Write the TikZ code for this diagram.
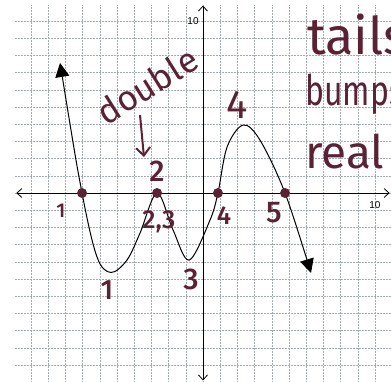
\documentclass[tikz,border=0pt]{standalone}
\usepackage{fontspec}
\setmainfont{Fira Sans}
\newfontfamily\printfont{Liberation Sans}
\newfontfamily\inkfont{Fira Sans}[UprightFont=* Medium]
\usepackage{tikz}
\usetikzlibrary{arrows.meta}
\definecolor{inkRed}{HTML}{5A2232}
\definecolor{gridGray}{HTML}{A4ABAF}

\begin{document}
\begin{tikzpicture}[x=17.2pt, y=17.2pt, >=Stealth,
  hand/.style={inkRed, inner sep=0pt},
  tick/.style={inner sep=0pt, font=\printfont\fontsize{10}{10}\selectfont},
  rootdot/.style={circle, fill=inkRed, inner sep=0pt, minimum size=10pt},
  axis/.style={line width=0.8pt, {Straight Barb[length=5pt,width=9pt]}-{Straight Barb[length=5pt,width=9pt]}}]
\useasboundingbox (-11.8,-10.93) rectangle (10.93,11.22);
% ---------- grid paper ----------
\foreach \k in {-10,...,10} {
  \draw[gridGray, densely dotted, line width=0.5pt] (\k,-10.93) -- (\k,10.93);
  \draw[gridGray, densely dotted, line width=0.5pt] (-10.93,\k) -- (10.93,\k);
}
% ---------- axes ----------
\draw[axis] (-10.85,0) -- (10.85,0);
\draw[axis] (0,-10.9) -- (0,10.9);
\node[tick] (ytop) at (-0.58,10) {10};
\node[tick] (xright) at (10,-0.7) {10};
% ---------- curve : roots -7, -2.7 (double), 0.9, 4.8 ----------
\coordinate (tailL) at (-8.31,7.56);
\coordinate (tailR) at (6.28,-4.65);
\coordinate (r1) at (-7.03,0);
\coordinate (r2) at (-2.67,0);
\coordinate (r4) at (0.87,0);
\coordinate (r5) at (4.77,0);
\draw[line width=1pt, {Triangle[length=14pt,width=14pt]}-{Triangle[length=14pt,width=14pt]}]
  plot[smooth, tension=0.55] coordinates {(tailL) (r1) (-6.16,-3.72) (-5.35,-4.62)
  (-4.42,-3.9) (-3.66,-2.33) (r2) (-1.74,-2.15) (-0.8,-3.9) (0.41,-1.57) (r4)
  (1.4,2.67) (2.33,3.95) (3.31,3.08) (r5) (tailR)};
\node[rootdot] (d1) at (r1) {};
\node[rootdot] (d2) at (r2) {};
\node[rootdot] (d4) at (r4) {};
\node[rootdot] (d5) at (r5) {};
% ---------- handwritten notes ----------
\node[hand, font=\inkfont\fontsize{20}{20}\selectfont] (n1) at (-8.26,-1.05) {1};
\node[hand, font=\inkfont\fontsize{28}{28}\selectfont] (m1) at (-5.58,-5.64) {1};
\node[hand, font=\inkfont\fontsize{26}{26}\selectfont] (n23) at (-2.56,-1.69) {2,3};
\node[hand, font=\inkfont\fontsize{30}{30}\selectfont] (n2) at (-2.67,1.28) {2};
\node[hand, font=\inkfont\fontsize{30}{30}\selectfont] (m3) at (-0.7,-5.0) {3};
\node[hand, font=\inkfont\fontsize{26}{26}\selectfont] (n4) at (1.22,-1.34) {4};
\node[hand, font=\inkfont\fontsize{30}{30}\selectfont] (n5) at (4.13,-1.16) {5};
\node[hand, font=\fontsize{40}{40}\selectfont] (m4) at (1.98,5.12) {4};
\node[hand, font=\fontsize{35}{35}\selectfont, rotate=32] (dbl) at (-3.25,6.25) {double};
\coordinate (arrowTop) at (-3.66,4.53);
\coordinate (arrowBot) at (-3.43,2.09);
\draw[inkRed, line width=2pt, -{Straight Barb[length=8pt,width=14pt]}] (arrowTop) -- (arrowBot);
\node[hand, font=\fontsize{52}{52}\selectfont, anchor=base west] (tails) at (6.05,8.08) {tails};
\node[hand, font=\fontsize{42}{42}\selectfont, anchor=base west, xscale=0.76] (bumps) at (5.93,5.06) {bumps};
\node[hand, font=\fontsize{46}{46}\selectfont, anchor=base west] (real) at (5.93,1.45) {real};
\end{tikzpicture}
\end{document}
